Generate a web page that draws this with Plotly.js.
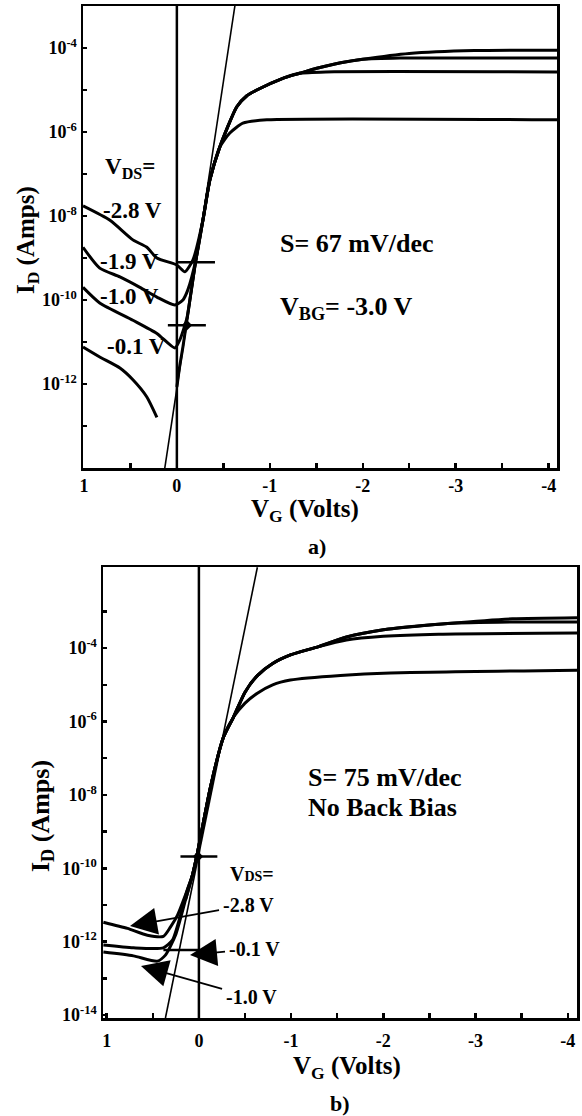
<!DOCTYPE html>
<html><head><meta charset="utf-8">
<script src="https://cdn.plot.ly/plotly-3.0.1.min.js"></script>
<style>html,body{margin:0;padding:0;background:#fff}</style>
</head><body><div id="chart" style="width:582px;height:1116px"></div>
<script>
// ---------- Panel a) : V_BG = -3.0 V ----------
const topV_m28 = [1.01, 0.72, 0.473, 0.323, 0.215, 0, -0.086, -0.172, -0.28, -0.355, -0.462, -0.645, -0.75, -0.86, -1.14, -1.32, -1.505, -1.7, -2.0, -2.5, -3.2, -4.09];
const topI_m28 = [1.74e-8, 7.9e-9, 2.7e-9, 1.8e-9, 1.0e-9, 6.8e-10, 4.7e-10, 8.9e-10, 7.9e-9, 7.2e-8, 4.4e-7, 4.0e-6, 7.2e-6, 1.0e-5, 1.9e-5, 2.5e-5, 3.3e-5, 4.17e-5, 5.37e-5, 7.4e-5, 8.7e-5, 8.9e-5];
const topV_m19 = [1.01, 0.83, 0.613, 0.398, 0.215, 0.022, -0.065, -0.118, -0.204, -0.28, -0.355, -0.462, -0.645, -0.75, -0.86, -1.14, -1.32, -1.505, -1.7, -2.0, -2.4, -4.09];
const topI_m19 = [1.8e-9, 5.75e-10, 3.55e-10, 2.0e-10, 1.17e-10, 7.6e-11, 1.0e-10, 1.74e-10, 8.9e-10, 7.9e-9, 7.2e-8, 4.4e-7, 4.0e-6, 7.2e-6, 1.0e-5, 1.9e-5, 2.5e-5, 3.3e-5, 4.17e-5, 5.37e-5, 5.75e-5, 5.75e-5];
const topV_m10 = [1.01, 0.83, 0.473, 0.215, 0.022, -0.032, -0.108, -0.14, -0.204, -0.28, -0.355, -0.462, -0.645, -0.75, -0.86, -1.14, -1.32, -1.6, -4.09];
const topI_m10 = [2.0e-10, 8.5e-11, 3.3e-11, 1.6e-11, 7.2e-12, 1.12e-11, 3.7e-11, 1.0e-10, 8.9e-10, 7.9e-9, 7.2e-8, 4.4e-7, 4.0e-6, 7.2e-6, 1.0e-5, 1.9e-5, 2.5e-5, 2.7e-5, 2.7e-5];
const topV_m01 = [1.01, 0.83, 0.613, 0.473, 0.323, 0.215, null, 0, -0.032, -0.065, -0.14, -0.204, -0.28, -0.355, -0.462, -0.57, -0.71, -0.968, -4.09];
const topI_m01 = [7.6e-12, 4.4e-12, 2.4e-12, 1.26e-12, 4.9e-13, 1.6e-13, null, 8.5e-13, 2.8e-12, 7.6e-12, 1.0e-10, 8.9e-10, 7.9e-9, 7.2e-8, 4.4e-7, 9.5e-7, 1.62e-6, 1.95e-6, 1.95e-6];
const topFitV = [0.13, -0.624];
const topFitI = [1e-14, 1e-3];
const topMark1V = [0, -0.41];
const topMark1I = [7.9e-10, 7.9e-10];
const topMark2V = [0.097, -0.312];
const topMark2I = [2.5e-11, 2.5e-11];
const topDotV = [-0.108];
const topDotI = [2.5e-11];

// ---------- Panel b) : no back bias ----------
const botV_m28 = [1.036, 0.775, 0.559, 0.385, 0.309, 0.233, 0.146, 0.07, 0.016, -0.125, -0.266, -0.374, -0.5, -0.634, -0.8, -1.0, -1.3, -1.6, -2.0, -2.7, -3.4, -4.10];
const botI_m28 = [3.4e-12, 2.3e-12, 1.5e-12, 1.4e-12, 2.5e-12, 5.2e-12, 1.86e-11, 6.5e-11, 2.6e-10, 1.6e-8, 3.7e-7, 1.3e-6, 6.3e-6, 1.78e-5, 3.8e-5, 6.6e-5, 1.1e-4, 2.0e-4, 3.16e-4, 4.68e-4, 6.3e-4, 6.76e-4];
const botV_m19 = [0.146, 0.07, 0.016, -0.125, -0.266, -0.374, -0.5, -0.634, -0.8, -1.0, -1.3, -1.6, -2.0, -2.7, -3.4, -4.10];
const botI_m19 = [1.35e-11, 6.5e-11, 2.6e-10, 1.6e-8, 3.7e-7, 1.3e-6, 6.3e-6, 1.78e-5, 3.8e-5, 6.6e-5, 1.1e-4, 2.0e-4, 3.16e-4, 4.68e-4, 5.13e-4, 5.13e-4];
const botV_m10 = [1.036, 0.71, 0.45, 0.363, 0.254, 0.146, 0.07, 0.016, -0.125, -0.266, -0.374, -0.5, -0.634, -0.8, -1.0, -1.3, -1.6, -2.0, -2.6, -4.10];
const botI_m10 = [5.2e-13, 4.1e-13, 2.95e-13, 4.3e-13, 1.5e-12, 1.35e-11, 6.5e-11, 2.6e-10, 1.6e-8, 3.7e-7, 1.3e-6, 6.3e-6, 1.78e-5, 3.8e-5, 6.6e-5, 1.1e-4, 1.66e-4, 2.09e-4, 2.4e-4, 2.57e-4];
const botV_m01 = [1.036, 0.71, 0.385, 0.287, 0.2, 0.125, 0.07, 0.016, -0.125, -0.266, -0.374, -0.5, -0.634, -0.8, -0.992, -1.535, -2.077, -4.10];
const botI_m01 = [8.1e-13, 6.8e-13, 6.8e-13, 1.1e-12, 5.2e-12, 2.6e-11, 6.5e-11, 2.6e-10, 1.6e-8, 3.7e-7, 1.3e-6, 3.16e-6, 5.9e-6, 1.0e-5, 1.35e-5, 1.8e-5, 2.1e-5, 2.5e-5];
const botFitV = [0.363, -0.634];
const botFitI = [8.3e-15, 1.6e-2];
const botMarkV = [0.2, -0.2];
const botMarkI = [2.1e-10, 2.1e-10];
const botDotV = [0.01];
const botDotI = [2.1e-10];
const botFlatV = [0.385, 0];
const botFlatI = [5.9e-13, 5.9e-13];

// ---------- ticks ----------
const xTickVals = [1, 0, -1, -2, -3, -4];
const xTickText = ['1', '0', '-1', '-2', '-3', '-4'];
const xMinorVals = [0.5, -0.5, -1.5, -2.5, -3.5];
const topYTickVals = [1e-12, 1e-10, 1e-8, 1e-6, 1e-4];
const topYTickText = ['10<sup>-12</sup>', '10<sup>-10</sup>', '10<sup>-8</sup>', '10<sup>-6</sup>', '10<sup>-4</sup>'];
const topYMinorVals = [1e-13, 1e-11, 1e-9, 1e-7, 1e-5];
const botYTickVals = [1e-14, 1e-12, 1e-10, 1e-8, 1e-6, 1e-4];
const botYTickText = ['10<sup>-14</sup>', '10<sup>-12</sup>', '10<sup>-10</sup>', '10<sup>-8</sup>', '10<sup>-6</sup>', '10<sup>-4</sup>'];
const botYMinorVals = [1e-13, 1e-11, 1e-9, 1e-7, 1e-5, 1e-3];

const W = 582, H = 1116;
const px = x => x / W;
const py = y => 1 - y / H;

function curve(x, y, xa, ya, w, sh) {
  return {x: x, y: y, xaxis: xa, yaxis: ya, type: 'scatter', mode: 'lines',
    line: {color: '#000', width: w, shape: sh || 'spline', smoothing: 0.6},
    connectgaps: false, hoverinfo: 'skip', showlegend: false};
}
function dot(x, y, xa, ya) {
  return {x: x, y: y, xaxis: xa, yaxis: ya, type: 'scatter', mode: 'markers',
    marker: {color: '#000', size: 8, symbol: 'diamond'}, hoverinfo: 'skip', showlegend: false};
}

const data = [
  curve(topV_m28, topI_m28, 'x', 'y', 3),
  curve(topV_m19, topI_m19, 'x', 'y', 3),
  curve(topV_m10, topI_m10, 'x', 'y', 3),
  curve(topV_m01, topI_m01, 'x', 'y', 3),
  curve(topFitV, topFitI, 'x', 'y', 1.6, 'linear'),
  curve(topMark1V, topMark1I, 'x', 'y', 2.5, 'linear'),
  curve(topMark2V, topMark2I, 'x', 'y', 2.5, 'linear'),
  dot(topDotV, topDotI, 'x', 'y'),
  curve(botV_m28, botI_m28, 'x2', 'y2', 3),
  curve(botV_m19, botI_m19, 'x2', 'y2', 3),
  curve(botV_m10, botI_m10, 'x2', 'y2', 3),
  curve(botV_m01, botI_m01, 'x2', 'y2', 3),
  curve(botFitV, botFitI, 'x2', 'y2', 1.6, 'linear'),
  curve(botMarkV, botMarkI, 'x2', 'y2', 2.5, 'linear'),
  curve(botFlatV, botFlatI, 'x2', 'y2', 2.5, 'linear'),
  dot(botDotV, botDotI, 'x2', 'y2')
];

const axisCommon = {
  showline: true, mirror: true, linewidth: 2.5, linecolor: '#000',
  showgrid: false, zeroline: false, ticks: 'inside', ticklen: 5, tickwidth: 2.5,
  tickcolor: '#000', tickmode: 'array', tickfont: {size: 18}
};
function minorOf(vals, len) {
  return {tickmode: 'array', tickvals: vals, ticks: 'inside', ticklen: len, tickwidth: 2.5, tickcolor: '#000', showgrid: false};
}

const FONT = 'Liberation Serif, Times New Roman, serif';
function txt(text, x, y, size, xanchor) {
  return {text: text, xref: 'paper', yref: 'paper', x: px(x), y: py(y),
    xanchor: xanchor || 'left', yanchor: 'middle', showarrow: false,
    font: {size: size, family: FONT, weight: 'bold', color: '#000'}};
}
function arrowLabel(text, tipX, tipY, txtX, txtY, size) {
  return {text: text, xref: 'paper', yref: 'paper', x: px(tipX), y: py(tipY),
    ax: txtX - tipX, ay: txtY - tipY, axref: 'pixel', ayref: 'pixel',
    showarrow: true, arrowhead: 2, arrowsize: 3, arrowwidth: 1.8, arrowcolor: '#000',
    standoff: 0, startstandoff: 2,
    font: {size: size, family: FONT, weight: 'bold', color: '#000'}};
}

const annotations = [
  // axis titles
  txt('I<sub>D</sub> (Amps)', 27, 240, 25, 'center'),
  txt('V<sub>G</sub> (Volts)', 305, 510, 25, 'center'),
  txt('a)', 317, 547, 22, 'center'),
  txt('I<sub>D</sub> (Amps)', 42, 816, 26, 'center'),
  txt('V<sub>G</sub> (Volts)', 347, 1067, 25, 'center'),
  txt('b)', 340, 1103, 22, 'center'),
  // panel a texts
  txt('V<sub>DS</sub>=', 103, 168, 23),
  txt('-2.8 V', 101, 210, 23),
  txt('-1.9 V', 98, 261, 23),
  txt('-1.0 V', 98, 296, 23),
  txt('-0.1 V', 105, 346, 23),
  txt('S= 67 mV/dec', 278, 244, 26),
  txt('V<sub>BG</sub>= -3.0 V', 278, 308, 26),
  // panel b texts
  txt('S= 75 mV/dec', 306, 777, 26),
  txt('No Back Bias', 306, 807, 26),
  txt('V<span style="font-size:14px">DS</span>=', 228, 874, 20),
  arrowLabel('-2.8 V', 130, 926, 248, 905, 20),
  arrowLabel('-0.1 V', 190, 955, 254, 949, 20),
  arrowLabel('-1.0 V', 141, 966, 251, 997, 20)
];
annotations[0].textangle = -90;
annotations[3].textangle = -90;

const shapes = [
  {type: 'line', xref: 'x', yref: 'y domain', x0: 0, x1: 0, y0: 0, y1: 1, line: {color: '#000', width: 2.5}},
  {type: 'line', xref: 'x2', yref: 'y2 domain', x0: 0, x1: 0, y0: 0, y1: 1, line: {color: '#000', width: 2.5}}
];

const layout = {
  width: W, height: H, margin: {l: 0, r: 0, t: 0, b: 0},
  paper_bgcolor: '#fff', plot_bgcolor: '#fff', showlegend: false,
  font: {family: FONT, weight: 'bold', color: '#000', size: 18},
  xaxis: Object.assign({}, axisCommon, {domain: [px(83), px(557)], range: [1.01, -4.09], anchor: 'y',
    tickvals: xTickVals, ticktext: xTickText, minor: minorOf(xMinorVals, 5)}),
  yaxis: Object.assign({}, axisCommon, {type: 'log', domain: [py(468), py(6)], range: [-14, -3], anchor: 'x',
    tickvals: topYTickVals, ticktext: topYTickText, ticklen: 4, minor: minorOf(topYMinorVals, 4)}),
  xaxis2: Object.assign({}, axisCommon, {domain: [px(103), px(577)], range: [1.04, -4.10], anchor: 'y2',
    tickvals: xTickVals, ticktext: xTickText, minor: minorOf(xMinorVals, 5), ticklabelstandoff: 5}),
  yaxis2: Object.assign({}, axisCommon, {type: 'log', domain: [py(1018), py(567)], range: [-14.08, -1.79], anchor: 'x2',
    tickvals: botYTickVals, ticktext: botYTickText, ticklen: 4, minor: minorOf(botYMinorVals, 4)}),
  annotations: annotations,
  shapes: shapes
};

Plotly.newPlot('chart', data, layout, {displayModeBar: false, staticPlot: true});
</script>
</body></html>
